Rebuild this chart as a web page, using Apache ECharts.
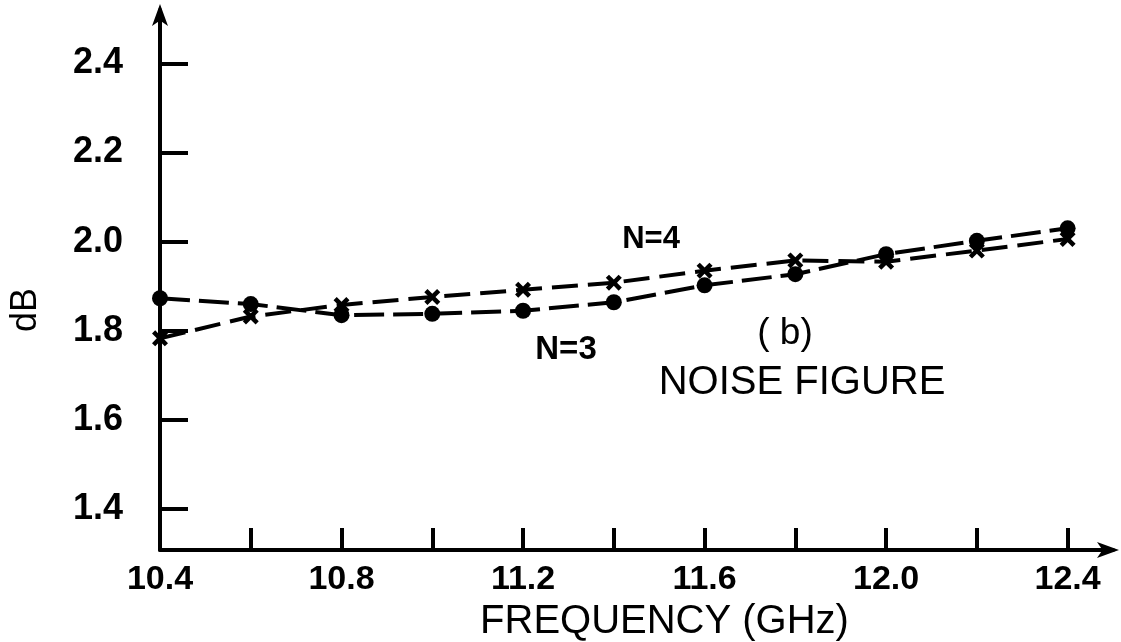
<!DOCTYPE html>
<html>
<head>
<meta charset="utf-8">
<script src="https://cdn.jsdelivr.net/npm/echarts@6/dist/echarts.min.js"></script>
<style>
html,body{margin:0;padding:0;background:#fff;}
#chart{width:1121px;height:642px;}
</style>
</head>
<body>
<div id="chart"></div>
<script>
const frequencies = [10.4, 10.6, 10.8, 11.0, 11.2, 11.4, 11.6, 11.8, 12.0, 12.2, 12.4];
const noiseN3 = [1.873, 1.860, 1.835, 1.838, 1.845, 1.864, 1.902, 1.927, 1.972, 2.002, 2.030];
const noiseN4 = [1.783, 1.832, 1.858, 1.876, 1.892, 1.908, 1.935, 1.958, 1.955, 1.980, 2.006];
const xTickValues = [10.4, 10.6, 10.8, 11.0, 11.2, 11.4, 11.6, 11.8, 12.0, 12.2, 12.4];
const xLabelValues = [10.4, 10.8, 11.2, 11.6, 12.0, 12.4];
const yTickValues = [1.4, 1.6, 1.8, 2.0, 2.2, 2.4];

const FONT = "'Liberation Sans', Arial, sans-serif";
const chart = echarts.init(document.getElementById('chart'), null, {renderer: 'canvas'});
const xSymbol = 'path://M0,2 L2,0 L5,3 L8,0 L10,2 L7,5 L10,8 L8,10 L5,7 L2,10 L0,8 L3,5 Z';

chart.setOption({
  backgroundColor: '#fff',
  animation: false,
  grid: {left: 160, right: 8, top: 10, bottom: 92, containLabel: false, outerBoundsMode: 'none'},
  xAxis: {
    type: 'value', min: 10.4, max: 12.5,
    splitLine: {show: false},
    axisLine: {show: true, lineStyle: {color: '#000', width: 4}, symbol: ['none', 'arrow'], symbolSize: [12, 22], symbolOffset: [0, 6]},
    axisTick: {show: true, inside: true, length: 22, lineStyle: {color: '#000', width: 4}, customValues: xTickValues},
    axisLabel: {
      customValues: xLabelValues, margin: 13, color: '#000', fontFamily: FONT, fontSize: 34, fontWeight: 'bold',
      formatter: v => v.toFixed(1)
    },
    name: 'FREQUENCY (GHz)', nameLocation: 'middle', nameGap: 49,
    nameTextStyle: {color: '#000', fontFamily: FONT, fontSize: 40, padding: [0, 0, 0, 56]}
  },
  yAxis: {
    type: 'value', min: 1.308, max: 2.52,
    splitLine: {show: false},
    axisLine: {show: true, lineStyle: {color: '#000', width: 4}, symbol: ['none', 'arrow'], symbolSize: [12, 22], symbolOffset: [0, 6]},
    axisTick: {show: true, inside: true, length: 28, lineStyle: {color: '#000', width: 4}, customValues: yTickValues},
    axisLabel: {
      customValues: yTickValues, margin: 37, color: '#000', fontFamily: FONT, fontSize: 36, fontWeight: 'bold',
      formatter: v => v.toFixed(1)
    }
  },
  series: [
    {
      name: 'N=4', type: 'line',
      data: frequencies.map((f, i) => [f, noiseN4[i]]),
      symbol: xSymbol, symbolSize: 16, showAllSymbol: true,
      lineStyle: {color: '#000', width: 4, type: [26, 10]},
      itemStyle: {color: '#000'}
    },
    {
      name: 'N=3', type: 'line',
      data: frequencies.map((f, i) => [f, noiseN3[i]]),
      symbol: 'circle', symbolSize: 16, showAllSymbol: true,
      lineStyle: {color: '#000', width: 4, type: [30, 9]},
      itemStyle: {color: '#000'}
    }
  ],
  graphic: [
    {type: 'text', x: 26, y: 310, rotation: Math.PI / 2, style: {text: 'dB', font: '36px ' + FONT, fill: '#000', textAlign: 'center', textVerticalAlign: 'middle'}},
    {type: 'text', x: 651, y: 239, style: {text: 'N=4', font: 'bold 31px ' + FONT, fill: '#000', textAlign: 'center', textVerticalAlign: 'middle'}},
    {type: 'text', x: 566, y: 350, style: {text: 'N=3', font: 'bold 33px ' + FONT, fill: '#000', textAlign: 'center', textVerticalAlign: 'middle'}},
    {type: 'text', x: 785, y: 334, style: {text: '( b)', font: '37px ' + FONT, fill: '#000', textAlign: 'center', textVerticalAlign: 'middle'}},
    {type: 'text', x: 802, y: 383, style: {text: 'NOISE FIGURE', font: '40px ' + FONT, fill: '#000', textAlign: 'center', textVerticalAlign: 'middle'}}
  ]
});
</script>
</body>
</html>
